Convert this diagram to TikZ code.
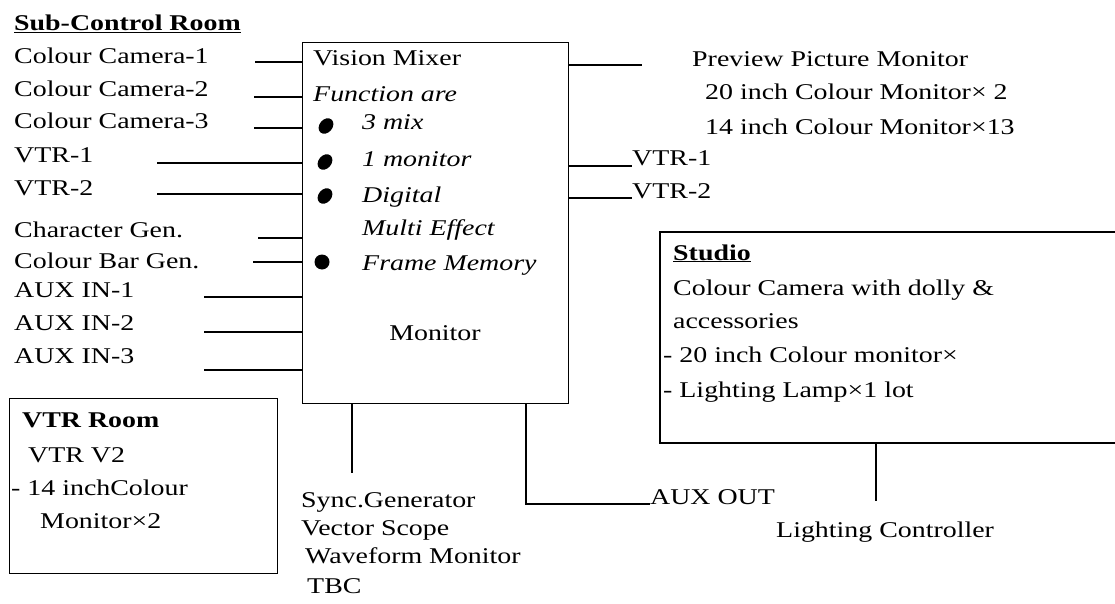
\documentclass[tikz,border=0pt]{standalone}
\usepackage{fontspec}
\setmainfont{Liberation Serif}[FakeStretch=1.24]
\tikzset{
  lbl/.style={anchor=base west, inner sep=0pt, font=\fontsize{22.5}{27}\selectfont},
  wire/.style={line width=1.4pt},
  roombox/.style={draw, line width=1.4pt, anchor=north west, inner sep=0pt},
}
\begin{document}
\begin{tikzpicture}[x=1pt,y=-1pt]
    \useasboundingbox (0,0) rectangle (1115,604);

    % Vision mixer box
    \node[roombox, minimum width=266pt, minimum height=361pt] (mixer) at (302,42) {};
    \node[lbl] (vmix) at (313,66) {Vision Mixer};
    \node[lbl] (func) at (313,102) {\itshape Function are};
    \node[lbl] (fmix) at (362,130) {\itshape 3 mix};
    \node[lbl] (fmon) at (362,167) {\itshape 1 monitor};
    \node[lbl] (fdig) at (362,202) {\itshape Digital};
    \node[lbl] (fmul) at (362,235) {\itshape Multi Effect};
    \node[lbl] (ffrm) at (362,270) {\itshape Frame Memory};
    \node[lbl, anchor=base] (vmon) at (435,340) {Monitor};

    % Bullets
    \fill[rotate around={50:(326,126)}] (326,126) ellipse [x radius=8.5pt, y radius=6.5pt];
    \fill[rotate around={50:(325,162)}] (325,162) ellipse [x radius=8.5pt, y radius=6.5pt];
    \fill[rotate around={50:(325,196)}] (325,196) ellipse [x radius=8.5pt, y radius=6.5pt];
    \fill (322,262) circle (7.5pt);

    % Sub-control room inputs
    \node[lbl] (subctl) at (14,31) {\textbf{\underline{Sub-Control Room}}};
    \node[lbl] (cam1) at (14,64) {Colour Camera-1};
    \node[lbl] (cam2) at (14,97) {Colour Camera-2};
    \node[lbl] (cam3) at (14,129) {Colour Camera-3};
    \node[lbl] (vtr1) at (14,163) {VTR-1};
    \node[lbl] (vtr2) at (14,195) {VTR-2};
    \node[lbl] (chgen) at (14,237) {Character Gen.};
    \node[lbl] (cbgen) at (14,268) {Colour Bar Gen.};
    \node[lbl] (aux1) at (14,297) {AUX IN-1};
    \node[lbl] (aux2) at (14,330) {AUX IN-2};
    \node[lbl] (aux3) at (14,363) {AUX IN-3};

    % Input wires
    \coordinate (cam1-e) at (255,62);
    \coordinate (cam2-e) at (254,97);
    \coordinate (cam3-e) at (254,128);
    \coordinate (vtr1-e) at (157,163);
    \coordinate (vtr2-e) at (157,194);
    \coordinate (chgen-e) at (258,238);
    \coordinate (cbgen-e) at (253,262);
    \coordinate (aux1-e) at (204,297);
    \coordinate (aux2-e) at (204,332);
    \coordinate (aux3-e) at (204,370);
    \draw[wire] (cam1-e) -- (cam1-e -| mixer.west);
    \draw[wire] (cam2-e) -- (cam2-e -| mixer.west);
    \draw[wire] (cam3-e) -- (cam3-e -| mixer.west);
    \draw[wire] (vtr1-e) -- (vtr1-e -| mixer.west);
    \draw[wire] (vtr2-e) -- (vtr2-e -| mixer.west);
    \draw[wire] (chgen-e) -- (chgen-e -| mixer.west);
    \draw[wire] (cbgen-e) -- (cbgen-e -| mixer.west);
    \draw[wire] (aux1-e) -- (aux1-e -| mixer.west);
    \draw[wire] (aux2-e) -- (aux2-e -| mixer.west);
    \draw[wire] (aux3-e) -- (aux3-e -| mixer.west);

    % Outputs on the right
    \coordinate (prev-e) at (642,65);
    \draw[wire] (prev-e -| mixer.east) -- (prev-e);
    \node[lbl] (prev) at (692,67) {Preview Picture Monitor};
    \node[lbl] (prev20) at (705,100) {20 inch Colour Monitor× 2};
    \node[lbl] (prev14) at (705,135) {14 inch Colour Monitor×13};
    \node[lbl] (vtr1out) at (632,166) {VTR-1};
    \node[lbl] (vtr2out) at (632,198) {VTR-2};
    \draw[wire] (vtr1out.base west -| mixer.east) -- (vtr1out.base west);
    \draw[wire] (vtr2out.base west -| mixer.east) -- (vtr2out.base west);

    % Sync and test equipment
    \coordinate (sync-e) at (352,473);
    \draw[wire] (sync-e |- mixer.south) -- (sync-e);
    \node[lbl] (sync) at (301,507) {Sync.Generator};
    \node[lbl] (vscope) at (301,535) {Vector Scope};
    \node[lbl] (wfm) at (305,563) {Waveform Monitor};
    \node[lbl] (tbc) at (307,593) {TBC};

    % Aux out
    \node[lbl] (auxout) at (650,504) {AUX OUT};
    \coordinate (auxout-c) at (526,504);
    \draw[wire] (auxout-c |- mixer.south) -- (auxout-c) -- (auxout.base west);

    % Studio
    \draw[wire] (1115,232) -- (660,232) -- (660,443) -- (1115,443);
    \node[lbl] (studio) at (673,260) {\textbf{\underline{Studio}}};
    \node[lbl] (scam) at (673,295) {Colour Camera with dolly \&};
    \node[lbl] (sacc) at (673,328) {accessories};
    \node[lbl] (smon) at (663,362) {- 20 inch Colour monitor×};
    \node[lbl] (slamp) at (663,397) {- Lighting Lamp×1 lot};
    \coordinate (studio-s) at (876,443);
    \coordinate (lctl-n) at (876,501);
    \draw[wire] (studio-s) -- (lctl-n);
    \node[lbl] (lctl) at (776,537) {Lighting Controller};

    % VTR room
    \node[roombox, minimum width=268pt, minimum height=175pt] (vtrroom) at (9,398) {};
    \node[lbl] (vtrr) at (22,427) {\textbf{VTR Room}};
    \node[lbl] (vtrv2) at (28,462) {VTR V2};
    \node[lbl] (vtrmon) at (11,495) {- 14 inchColour};
    \node[lbl] (vtrmon2) at (40,528) {Monitor×2};
\end{tikzpicture}
\end{document}
